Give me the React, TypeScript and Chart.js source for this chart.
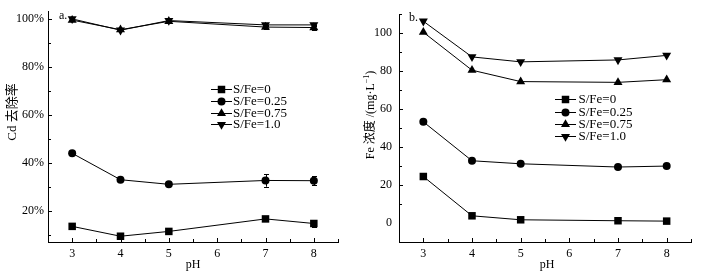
import React, { useEffect, useRef } from "react";
import { Chart, registerables } from "chart.js";

Chart.register(...registerables);

// ---------- data ----------
const pH = [3, 4, 5, 7, 8];
const xTickValues = [3, 4, 5, 6, 7, 8];
const seriesLabels = ["S/Fe=0", "S/Fe=0.25", "S/Fe=0.75", "S/Fe=1.0"];

// panel a: Cd removal (%)
const cdRemoval0 = [13.7, 9.6, 11.6, 16.8, 14.9];
const cdRemoval025 = [44.1, 33.1, 31.2, 32.8, 32.7];
const cdRemoval075 = [99.5, 95.5, 99.0, 96.6, 96.4];
const cdRemoval10 = [100.0, 95.3, 99.3, 97.5, 97.5];
const cdErr0 = [0, 0, 0, 0.5, 1.3];
const cdErr025 = [0, 0, 0, 2.6, 1.8];
const cdErr075 = [0, 0, 0, 0.8, 1.0];
const cdErr10 = [0, 0, 0, 0.6, 0.6];
const cdTickValues = [20, 40, 60, 80, 100];

// panel b: Fe concentration (mg/L)
const fe0 = [24.5, 3.8, 1.7, 1.2, 1.0];
const fe025 = [53.3, 32.8, 31.2, 29.5, 30.0];
const fe075 = [100.5, 80.5, 74.5, 74.1, 75.5];
const fe10 = [106.3, 87.5, 84.9, 85.9, 88.3];
const feErr = [0, 0, 0, 0, 0];
const feTickValues = [0, 20, 40, 60, 80, 100];

// ---------- styles ----------
const SERIF = '"Liberation Serif", "Times New Roman", "Noto Sans CJK SC", serif';
const markerStyles = ["rect", "circle", "triangle", "triangleDown"];
const markerRadius = [5.3, 4, 5.2, 5.2];

function drawMarker(ctx: CanvasRenderingContext2D, style: string, r: number, x: number, y: number) {
  ctx.beginPath();
  if (style === "rect") {
    const s = Math.SQRT1_2 * r;
    ctx.rect(x - s, y - s, 2 * s, 2 * s);
  } else if (style === "circle") {
    ctx.arc(x, y, r, 0, Math.PI * 2);
  } else if (style === "triangle") {
    ctx.moveTo(x, y - r);
    ctx.lineTo(x + r * 0.866, y + r * 0.5);
    ctx.lineTo(x - r * 0.866, y + r * 0.5);
    ctx.closePath();
  } else {
    ctx.moveTo(x, y + r);
    ctx.lineTo(x + r * 0.866, y - r * 0.5);
    ctx.lineTo(x - r * 0.866, y - r * 0.5);
    ctx.closePath();
  }
  ctx.fill();
}

type TitlePart = { t: string; sup?: boolean };

type PanelCfg = {
  left: number;
  axisX: number;
  padRight: number;
  yMin: number;
  yMax: number;
  yTicks: number[];
  minorStart: number;
  minorStep: number;
  yPad: number;
  fmt: (v: number) => string;
  series: number[][];
  errs: number[][];
  title: TitlePart[];
  titleSize: number;
  titleX: number;
  titleY: number;
  legendLineX0: number;
  legendLineX1: number;
  legendTextX: number;
  legendY0: number;
  legendDy: number;
  panelLabel: string;
  panelLabelX: number;
  panelLabelY: number;
  pHX: number;
};

function Panel({ cfg }: { cfg: PanelCfg }) {
  const ref = useRef<HTMLCanvasElement>(null);
  useEffect(() => {
    const canvas = ref.current!;
    const decor = {
      id: "decor",
      afterDatasetsDraw(chart: any) {
        const ctx: CanvasRenderingContext2D = chart.ctx;
        const xs = chart.scales.x;
        const ys = chart.scales.y;
        ctx.save();
        ctx.strokeStyle = "#000";
        ctx.lineWidth = 1;
        // error bars
        cfg.series.forEach((vals, si) => {
          vals.forEach((v, i) => {
            const e = cfg.errs[si][i];
            if (!e) return;
            const px = Math.round(xs.getPixelForValue(pH[i])) + 0.5;
            const y1 = ys.getPixelForValue(v + e);
            const y2 = ys.getPixelForValue(v - e);
            ctx.beginPath();
            ctx.moveTo(px, y1);
            ctx.lineTo(px, y2);
            ctx.moveTo(px - 2.5, Math.round(y1) + 0.5);
            ctx.lineTo(px + 2.5, Math.round(y1) + 0.5);
            ctx.moveTo(px - 2.5, Math.round(y2) + 0.5);
            ctx.lineTo(px + 2.5, Math.round(y2) + 0.5);
            ctx.stroke();
          });
        });
        ctx.restore();
      },
      afterDraw(chart: any) {
        const ctx: CanvasRenderingContext2D = chart.ctx;
        const xs = chart.scales.x;
        const ys = chart.scales.y;
        const ca = chart.chartArea;
        ctx.save();
        ctx.strokeStyle = "#000";
        ctx.fillStyle = "#000";
        ctx.lineWidth = 1;
        // inward ticks on x axis
        for (let v = 2.5; v <= 8.5 + 1e-9; v += 0.5) {
          const px = Math.round(xs.getPixelForValue(v)) + 0.5;
          const major = Math.abs(v - Math.round(v)) < 1e-6;
          const len = major ? 4 : 3;
          ctx.beginPath();
          ctx.moveTo(px, ca.bottom);
          ctx.lineTo(px, ca.bottom - len);
          ctx.stroke();
        }
        // inward ticks on y axis
        for (let v = cfg.minorStart; v <= cfg.yMax + 1e-9; v += cfg.minorStep) {
          const py = Math.round(ys.getPixelForValue(v)) + 0.5;
          const major = cfg.yTicks.some((t) => Math.abs(t - v) < 1e-6);
          const len = major ? 4 : 3;
          ctx.beginPath();
          ctx.moveTo(ca.left, py);
          ctx.lineTo(ca.left + len, py);
          ctx.stroke();
        }
        // legend
        ctx.font = `13px ${SERIF}`;
        ctx.textBaseline = "middle";
        ctx.textAlign = "left";
        seriesLabels.forEach((lab, i) => {
          const y = cfg.legendY0 + i * cfg.legendDy;
          const yy = Math.round(y) + 0.5;
          ctx.beginPath();
          ctx.moveTo(cfg.legendLineX0, yy);
          ctx.lineTo(cfg.legendLineX1, yy);
          ctx.stroke();
          drawMarker(ctx, markerStyles[i], markerRadius[i], (cfg.legendLineX0 + cfg.legendLineX1) / 2, yy);
          ctx.fillText(lab, cfg.legendTextX, y + 0.5);
        });
        // panel label
        ctx.font = `12px ${SERIF}`;
        ctx.fillText(cfg.panelLabel, cfg.panelLabelX, cfg.panelLabelY);
        // x title
        ctx.textAlign = "center";
        ctx.fillText("pH", cfg.pHX, 265);
        // y title (rotated)
        ctx.translate(cfg.titleX, cfg.titleY);
        ctx.rotate(-Math.PI / 2);
        ctx.textAlign = "left";
        const normal = `${cfg.titleSize}px ${SERIF}`;
        const small = `8px ${SERIF}`;
        let total = 0;
        cfg.title.forEach((p) => {
          ctx.font = p.sup ? small : normal;
          total += ctx.measureText(p.t).width;
        });
        let x = -total / 2;
        cfg.title.forEach((p) => {
          ctx.font = p.sup ? small : normal;
          ctx.fillText(p.t, x, p.sup ? -4 : 0);
          x += ctx.measureText(p.t).width;
        });
        ctx.restore();
      },
    };

    const chart = new Chart(canvas, {
      type: "line",
      data: {
        datasets: cfg.series.map((vals, i) => ({
          label: seriesLabels[i],
          data: pH.map((x, j) => ({ x, y: vals[j] })),
          borderColor: "#000",
          backgroundColor: "#000",
          borderWidth: 1,
          pointStyle: markerStyles[i] === "triangleDown" ? "triangle" : (markerStyles[i] as any),
          rotation: markerStyles[i] === "triangleDown" ? 180 : 0,
          pointRadius: markerRadius[i],
          pointBorderWidth: 0,
          pointBackgroundColor: "#000",
          tension: 0,
          fill: false,
          clip: false as any,
        })),
      },
      options: {
        responsive: false,
        animation: false,
        devicePixelRatio: 1,
        layout: { padding: { top: 10, right: cfg.padRight, left: 0, bottom: 0 } },
        plugins: { legend: { display: false }, tooltip: { enabled: false } },
        scales: {
          x: {
            type: "linear",
            min: 2.5,
            max: 8.5,
            afterBuildTicks: (s: any) => {
              s.ticks = xTickValues.map((v) => ({ value: v }));
            },
            afterFit: (s: any) => {
              s.height = 35;
            },
            grid: { display: false, drawTicks: false },
            border: { display: true, color: "#000", width: 1 },
            ticks: {
              color: "#000",
              font: { family: SERIF, size: 12 },
              padding: 5,
              maxRotation: 0,
              autoSkip: false,
            },
          },
          y: {
            type: "linear",
            min: cfg.yMin,
            max: cfg.yMax,
            afterBuildTicks: (s: any) => {
              s.ticks = cfg.yTicks.map((v) => ({ value: v }));
            },
            afterFit: (s: any) => {
              s.width = cfg.axisX;
            },
            grid: { display: false, drawTicks: false },
            border: { display: true, color: "#000", width: 1 },
            ticks: {
              color: "#000",
              font: { family: SERIF, size: 12 },
              padding: cfg.yPad,
              autoSkip: false,
              callback: (v: any) => cfg.fmt(Number(v)),
            },
          },
        },
      },
      plugins: [decor],
    });
    return () => chart.destroy();
  }, []);
  return (
    <canvas
      ref={ref}
      width={352}
      height={277}
      style={{ position: "absolute", left: cfg.left, top: 0, width: 352, height: 277 }}
    />
  );
}

const leftCfg: PanelCfg = {
  left: 0,
  axisX: 48,
  padRight: 14,
  yMin: 7.2,
  yMax: 103.2,
  yTicks: cdTickValues,
  minorStart: 10,
  minorStep: 10,
  yPad: 4,
  fmt: (v) => `${v}%`,
  series: [cdRemoval0, cdRemoval025, cdRemoval075, cdRemoval10],
  errs: [cdErr0, cdErr025, cdErr075, cdErr10],
  title: [{ t: "Cd 去除率" }],
  titleSize: 13,
  titleX: 12.5,
  titleY: 112,
  legendLineX0: 211,
  legendLineX1: 232,
  legendTextX: 233,
  legendY0: 89,
  legendDy: 11.8,
  panelLabel: "a.",
  panelLabelX: 59,
  panelLabelY: 16,
  pHX: 193,
};

const rightCfg: PanelCfg = {
  left: 352,
  axisX: 47,
  padRight: 13,
  yMin: -10,
  yMax: 110,
  yTicks: feTickValues,
  minorStart: 10,
  minorStep: 10,
  yPad: 7,
  fmt: (v) => `${v}`,
  series: [fe0, fe025, fe075, fe10],
  errs: [feErr, feErr, feErr, feErr],
  title: [{ t: "Fe 浓度 /(mg·L" }, { t: "−1", sup: true }, { t: ")" }],
  titleSize: 12,
  titleX: 19,
  titleY: 115,
  legendLineX0: 203,
  legendLineX1: 224,
  legendTextX: 226.5,
  legendY0: 99.3,
  legendDy: 12.3,
  panelLabel: "b.",
  panelLabelX: 57,
  panelLabelY: 18,
  pHX: 195,
};

export default function App() {
  return (
    <div style={{ position: "fixed", left: 0, top: 0, width: 704, height: 277, background: "#fff" }}>
      <Panel cfg={leftCfg} />
      <Panel cfg={rightCfg} />
    </div>
  );
}
